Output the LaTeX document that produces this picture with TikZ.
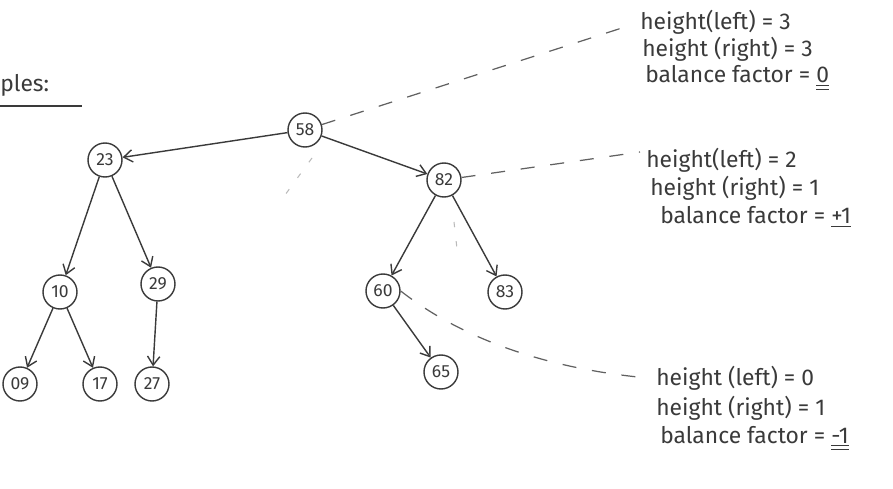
\documentclass[tikz,border=0pt]{standalone}
\usepackage{fontspec}
\setmainfont{Fira Sans}
\usetikzlibrary{arrows.meta}
\definecolor{pencil}{HTML}{3A3A3A}
\begin{document}
\begin{tikzpicture}[x=0.02cm,y=-0.02cm,
  tnode/.style={draw=pencil,circle,line width=0.8pt,minimum size=34*0.02cm,inner sep=0pt,font=\fontsize{10}{11}\selectfont,text=pencil},
  edge/.style={draw=pencil,line width=0.8pt,-{Straight Barb[length=5pt,width=7pt]}},
  dashlink/.style={draw=pencil!80,line width=0.7pt,dash pattern=on 8pt off 9pt},
  faint/.style={draw=pencil!35,line width=0.6pt,dash pattern=on 3pt off 8pt},
  note/.style={anchor=west,text=pencil,font=\fontsize{13}{14}\selectfont,inner sep=0pt}]
\useasboundingbox (0,0) rectangle (893,489);
% nodes
\node[tnode] (n58) at (305,130) {58};
\node[tnode] (n23) at (105,160) {23};
\node[tnode] (n82) at (444,180) {82};
\node[tnode] (n10) at (60,292) {10};
\node[tnode] (n29) at (158,284) {29};
\node[tnode] (n60) at (383,291) {60};
\node[tnode] (n83) at (505,292) {83};
\node[tnode] (n09) at (20,384) {09};
\node[tnode] (n17) at (100,384) {17};
\node[tnode] (n27) at (152,384) {27};
\node[tnode] (n65) at (441,372) {65};
% edges
\draw[edge] (n58) -- (n23);
\draw[edge] (n58) -- (n82);
\draw[edge] (n23) -- (n10);
\draw[edge] (n23) -- (n29);
\draw[edge] (n10) -- (n09);
\draw[edge] (n10) -- (n17);
\draw[edge] (n29) -- (n27);
\draw[edge] (n82) -- (n60);
\draw[edge] (n82) -- (n83);
\draw[edge] (n60) -- (n65);
% notes
\coordinate (c1) at (625,27);
\coordinate (c2) at (640,152);
\coordinate (c3) at (648,378);
\node[note] (t1a) at (640,22) {height(left) = 3};
\node[note] (t1b) at (642,49) {height (right) = 3};
\node[note] (t1c) at (645,78) {balance factor = \underline{\underline{0}}};
\node[note] (t2a) at (646,160) {height(left) = 2};
\node[note] (t2b) at (650,188) {height (right) = 1};
\node[note] (t2c) at (660,217) {balance factor = \underline{+1}};
\node[note] (t3a) at (656,378) {height (left) = 0};
\node[note] (t3b) at (656,408) {height (right) = 1};
\node[note] (t3c) at (660,438) {balance factor = \underline{\underline{-1}}};
% dashed connectors
\draw[dashlink] (n58) -- (c1);
\draw[dashlink] (n82) -- (c2);
\draw[dashlink] (n60.east) .. controls (470,345) and (560,370) .. (c3);
% faint marks
\draw[faint] (312,158) -- (285,195);
\draw[faint] (454,222) -- (458,258);
% heading
\node[note] (hd) at (0,85) {ples:};
\draw[pencil,line width=0.8pt] (0,106) -- (82,106);
\end{tikzpicture}
\end{document}
